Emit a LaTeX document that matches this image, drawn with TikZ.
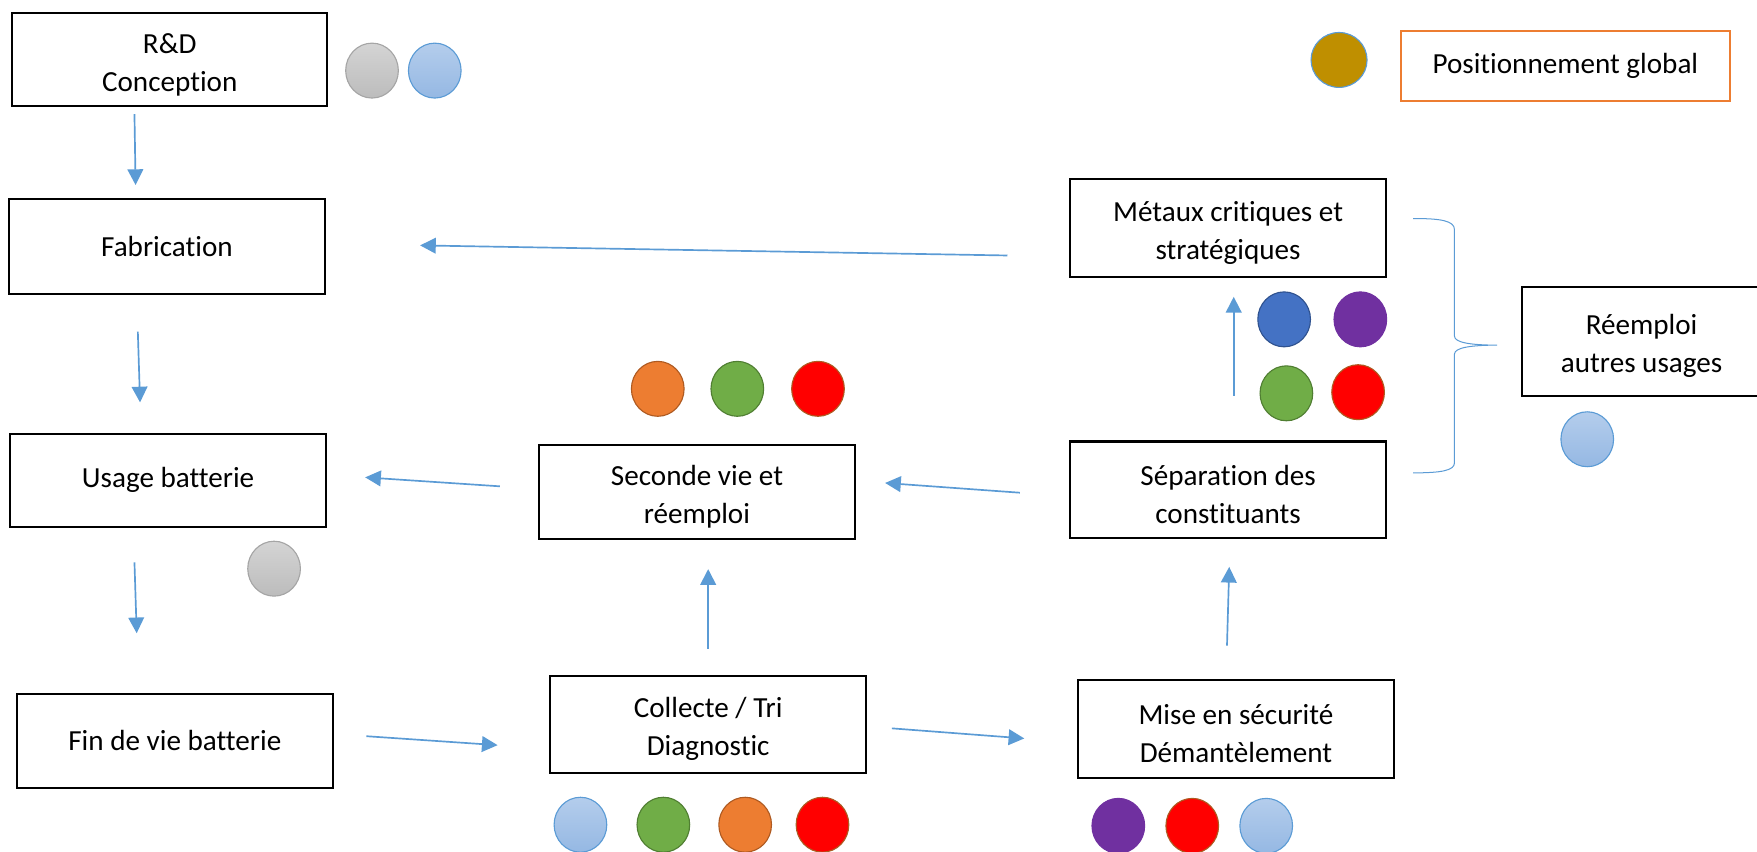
\documentclass[tikz,border=0pt]{standalone}
\usepackage{fontspec}
\setmainfont{Carlito}[Ligatures=NoCommon]
\usetikzlibrary{arrows.meta,shapes.geometric}
\definecolor{arrowblue}{HTML}{5B9BD5}
\definecolor{lbtop}{HTML}{B4CDEC}
\definecolor{lbbot}{HTML}{95B8E3}
\definecolor{grtop}{HTML}{D4D4D4}
\definecolor{grbot}{HTML}{BCBCBC}
\definecolor{grline}{HTML}{A5A5A5}
\definecolor{dblue}{HTML}{4472C4}
\definecolor{dblueline}{HTML}{2F528F}
\definecolor{mpurple}{HTML}{7030A0}
\definecolor{mgreen}{HTML}{70AD47}
\definecolor{mgreenline}{HTML}{507E32}
\definecolor{mred}{HTML}{FF0000}
\definecolor{brownline}{HTML}{AE5A21}
\definecolor{morange}{HTML}{ED7D31}
\definecolor{mgold}{HTML}{BF8F00}
\newcommand{\lowstrut}{\rule{0pt}{26pt}}
\tikzset{
  stepbox/.style={draw=black, line width=1.8pt, minimum width=282pt, minimum height=84pt,
    align=center, inner sep=0pt, font=\fontsize{26}{34}\selectfont},
  arr/.style={draw=arrowblue, line width=1.5pt, -{Triangle[length=14pt,width=14pt]}},
  dot/.style={ellipse, minimum width=47pt, minimum height=49pt, inner sep=0pt, line width=1pt},
  dlblue/.style={dot, draw=arrowblue, top color=lbtop, bottom color=lbbot},
  dgray/.style={dot, draw=grline, top color=grtop, bottom color=grbot},
  ddblue/.style={dot, fill=dblue, draw=dblueline},
  dpurple/.style={dot, fill=mpurple, draw=mpurple},
  dgreen/.style={dot, fill=mgreen, draw=mgreenline},
  dred/.style={dot, fill=mred, draw=brownline},
  dorange/.style={dot, fill=morange, draw=brownline},
  dgold/.style={dot, fill=mgold, draw=arrowblue, minimum width=50pt},
}
\begin{document}
\begin{tikzpicture}[x=1pt,y=-1pt]
\useasboundingbox (0,0) rectangle (1568,760);
% boxes
\node[stepbox, minimum width=281pt, minimum height=83pt] (rd) at (151.5,53.5) {\lowstrut R\&D\\Conception};
\node[stepbox] (fab) at (149,220) {Fabrication};
\node[stepbox, minimum height=83pt] (usage) at (150,428.5) {Usage batterie};
\node[stepbox] (fin) at (156,661) {Fin de vie batterie};
\node[stepbox, minimum height=87pt] (coll) at (632,646.5) {\lowstrut Collecte / Tri\\Diagnostic};
\node[stepbox, minimum height=87pt] (mise) at (1103,650.5) {\lowstrut Mise en sécurité\\Démantèlement};
\node[stepbox] (sec) at (622,439) {\lowstrut Seconde vie et\\réemploi};
\node[stepbox, minimum height=86pt] (sep) at (1096,437) {\lowstrut Séparation des\\constituants};
\node[stepbox, minimum height=87pt] (met) at (1096,203.5) {\lowstrut Métaux critiques et\\stratégiques};
\node[stepbox, minimum width=214pt, minimum height=97pt] (reem) at (1465,304.5) {\lowstrut Réemploi\\autres usages};
\node[stepbox, draw=morange, line width=1.6pt, minimum width=294pt, minimum height=62pt] (pos) at (1397,59) {Positionnement global};
% dots
\node[dgray] (d1) at (332,63) {};
\node[dlblue] (d2) at (388,63) {};
\node[dgold] (d3) at (1195,53.5) {};
\node[ddblue] (d4) at (1146,285) {};
\node[dpurple] (d5) at (1214,285) {};
\node[dgreen] (d6) at (1148,351) {};
\node[dred] (d7) at (1212,350) {};
\node[dlblue] (d8) at (1416.5,392) {};
\node[dorange] (d9) at (587,347) {};
\node[dgreen] (d10) at (658,347) {};
\node[dred] (d11) at (730,347) {};
\node[dgray] (d12) at (244.6,507.5) {};
\node[dlblue] (d13) at (518,736) {};
\node[dgreen] (d14) at (592,736) {};
\node[dorange] (d15) at (665,736) {};
\node[dred] (d16) at (734,736) {};
\node[dpurple] (d17) at (998,737) {};
\node[dred] (d18) at (1064,737) {};
\node[dlblue] (d19) at (1130,737) {};
% arrows
\draw[arr] ([shift={(-31.5,6)}]rd.south) -- ([shift={(-28,-12)}]fab.north);
\draw[arr] ([shift={(-26,33)}]fab.south) -- ([shift={(-25,-27)}]usage.north);
\draw[arr] ([shift={(-30,31)}]usage.south) -- ([shift={(-34,-53)}]fin.north);
\draw[arr] ([shift={(29,-4)}]fin.east) -- ([shift={(-46,18.5)}]coll.west);
\draw[arr] ([shift={(0,-23)}]coll.north) -- ([shift={(10,26)}]sec.south);
\draw[arr] ([shift={(22,3.5)}]coll.east) -- ([shift={(-47,8.5)}]mise.west);
\draw[arr] ([shift={(-8,-30)}]mise.north) -- ([shift={(1,25)}]sep.south);
\draw[arr] ([shift={(-44,2.7)}]sep.west) -- ([shift={(26,-8)}]sec.east);
\draw[arr] ([shift={(-34,-5)}]sec.west) -- ([shift={(34,-2.5)}]usage.east);
\draw[arr] ([shift={(5,-40)}]sep.north) -- ([shift={(5,17)}]met.south);
\draw[arr] ([shift={(-55,24.5)}]met.west) -- ([shift={(84,-1)}]fab.east);
% brace
\draw[arrowblue, line width=0.9pt]
  (1261,195) .. controls (1286,195) and (1298,197) .. (1298,205)
  -- (1298,300) .. controls (1298,306) and (1314,308) .. (1336,308)
  .. controls (1314,308) and (1298,310) .. (1298,316)
  -- (1298,413) .. controls (1298,420) and (1286,422) .. (1261,422);
\end{tikzpicture}
\end{document}
